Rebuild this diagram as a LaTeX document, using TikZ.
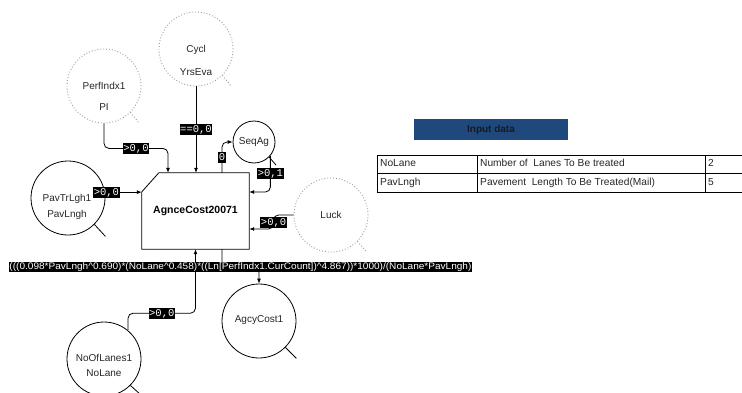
\documentclass[tikz,border=0pt]{standalone}
\usepackage{fontspec}
\setmainfont{Liberation Sans}
\newfontfamily\monofont{Liberation Mono}
\usetikzlibrary{arrows.meta}
\definecolor{headblue}{RGB}{31,73,125}
\begin{document}
\begin{tikzpicture}[x=1pt,y=1pt,
  every node/.style={font=\fontsize{10}{12}\selectfont},
  circ/.style={circle,draw=black,line width=0.8pt,minimum size=74pt,inner sep=0pt},
  dcirc/.style={circle,draw=gray!80,dotted,line width=0.9pt,minimum size=74pt,inner sep=0pt},
  ctext/.style={inner sep=0pt,text height=7pt,text depth=2pt,text=black!85},
  tail/.style={draw=black,line width=0.8pt},
  dtail/.style={draw=gray!80,dotted,line width=0.9pt},
  conn/.style={draw=black,line width=0.8pt,rounded corners=5pt,-{Latex[length=5pt,width=4pt]}},
  lbl/.style={sharp corners,fill=black,text=white,inner xsep=0.6pt,inner ysep=0pt,text height=8.5pt,text depth=2.5pt,
    font=\monofont\fontsize{10.5}{12}\selectfont},
  formula/.style={sharp corners,fill=black,text=white,inner xsep=0.5pt,inner ysep=0.5pt,
    font=\fontsize{9.5}{11}\selectfont},
  cell/.style={anchor=west,inner sep=0pt,text height=7pt,text depth=2pt,text=black!85,
    font=\fontsize{10.2}{12}\selectfont}
]
\useasboundingbox (0,0) rectangle (742,392);

% ---- variables (circles) ----
\node[dcirc] (perf) at (104,306) {};
\node[ctext] (perf-a) at (104,305) {PerfIndx1};
\node[ctext] (perf-b) at (104,284) {PI};
\draw[dtail] (perf.-45) -- ++(9,-11);

\node[dcirc] (cycl) at (196,343) {};
\node[ctext] (cycl-a) at (196,342) {Cycl};
\node[ctext] (cycl-b) at (196,319) {YrsEva};
\draw[dtail] (cycl.-45) -- ++(9,-11);

\node[circ,minimum size=42pt] (seqag) at (254,250) {};
\node[ctext] (seqag-a) at (254,250) {SeqAg};
\draw[tail] (seqag.-45) -- ++(7,-8);

\node[circ] (pavtr) at (68,194) {};
\node[ctext] (pavtr-a) at (67,193) {PavTrLgh1};
\node[ctext] (pavtr-b) at (67,177) {PavLngh};
\draw[tail] (pavtr.-45) -- ++(11,-12);

\node[dcirc] (luck) at (331,177) {};
\node[ctext] (luck-a) at (331,176) {Luck};
\draw[dtail] (luck.-45) -- ++(9,-10);

\node[circ] (agcy) at (259,71) {};
\node[ctext] (agcy-a) at (259,72) {AgcyCost1};
\draw[tail] (agcy.-45) -- ++(11,-11);

\node[circ] (nolanes) at (104,33) {};
\node[ctext] (nolanes-a) at (104,33) {NoOfLanes1};
\node[ctext] (nolanes-b) at (104,18) {NoLane};
\draw[tail] (nolanes.-45) -- ++(11,-10);

% ---- process block with chamfered corner ----
\node[minimum width=107pt,minimum height=76pt,inner sep=0pt,
      font=\bfseries\fontsize{10.5}{12}\selectfont] (box) at (195.5,181) {AgnceCost20071};
\draw[line width=0.8pt] ([xshift=17pt]box.north west) -- (box.north east) -- (box.south east)
  -- (box.south west) -- ([yshift=-19pt]box.north west) -- cycle;

% ---- connectors ----
\draw[conn] (perf.south) -- ++(0,-25) -| node[lbl,pos=0.25] {>0,0} ([xshift=-27.5pt]box.north);
\draw[conn] (cycl.south) -- node[lbl] {==0,0} (cycl.south |- box.north);
\draw[conn] ([xshift=26.5pt]box.north) |- node[lbl,pos=0.25] {0} (seqag.west);
\draw[conn] (seqag.-40) |- node[lbl,pos=0.25] {>0,1} ([yshift=19pt]box.east);
\draw[conn] (pavtr.9) -- node[lbl,pos=0.04] {>0,0} (pavtr.9 -| box.west);
\draw[conn] (luck.west) -- ++(-20,0) |- node[lbl,pos=0.25] {>0,0} ([yshift=-18pt]box.east);
\draw[conn] (nolanes.50) |- node[lbl,pos=0.75] {>0,0} ([yshift=-64pt]box.south) -- (box.south);
\draw[conn] ([xshift=26.5pt]box.south) -- ++(0,-18) -| node[formula,pos=0.25]
  {\resizebox{462pt}{\height}{(((0.098*PavLngh\^{}0.690)*(NoLane\^{}0.458)*((Ln[PerfIndx1.CurCount])\^{}4.867))*1000)/(NoLane*PavLngh)}}
  (agcy.north);

% ---- input data table ----
\node[fill=headblue,minimum width=154pt,minimum height=21pt,inner sep=0pt,
      font=\bfseries\fontsize{10}{12}\selectfont,text=black!90] (head) at (491,262.5) {Input data};
\draw[line width=0.8pt] (377,237) -- (742,237) (377,218.5) -- (742,218.5) (377,200) -- (742,200);
\draw[line width=0.8pt] (377,237) -- (377,200) (477,237) -- (477,200) (705,237) -- (705,200);
\node[cell] (c11) at (380,227.75) {NoLane};
\node[cell] (c12) at (480,227.75) {Number of\ \ Lanes To Be treated};
\node[cell] (c13) at (708,227.75) {2};
\node[cell] (c21) at (380,209.25) {PavLngh};
\node[cell] (c22) at (480,209.25) {Pavement\ \ Length To Be Treated(Mail)};
\node[cell] (c23) at (708,209.25) {5};
\end{tikzpicture}
\end{document}
